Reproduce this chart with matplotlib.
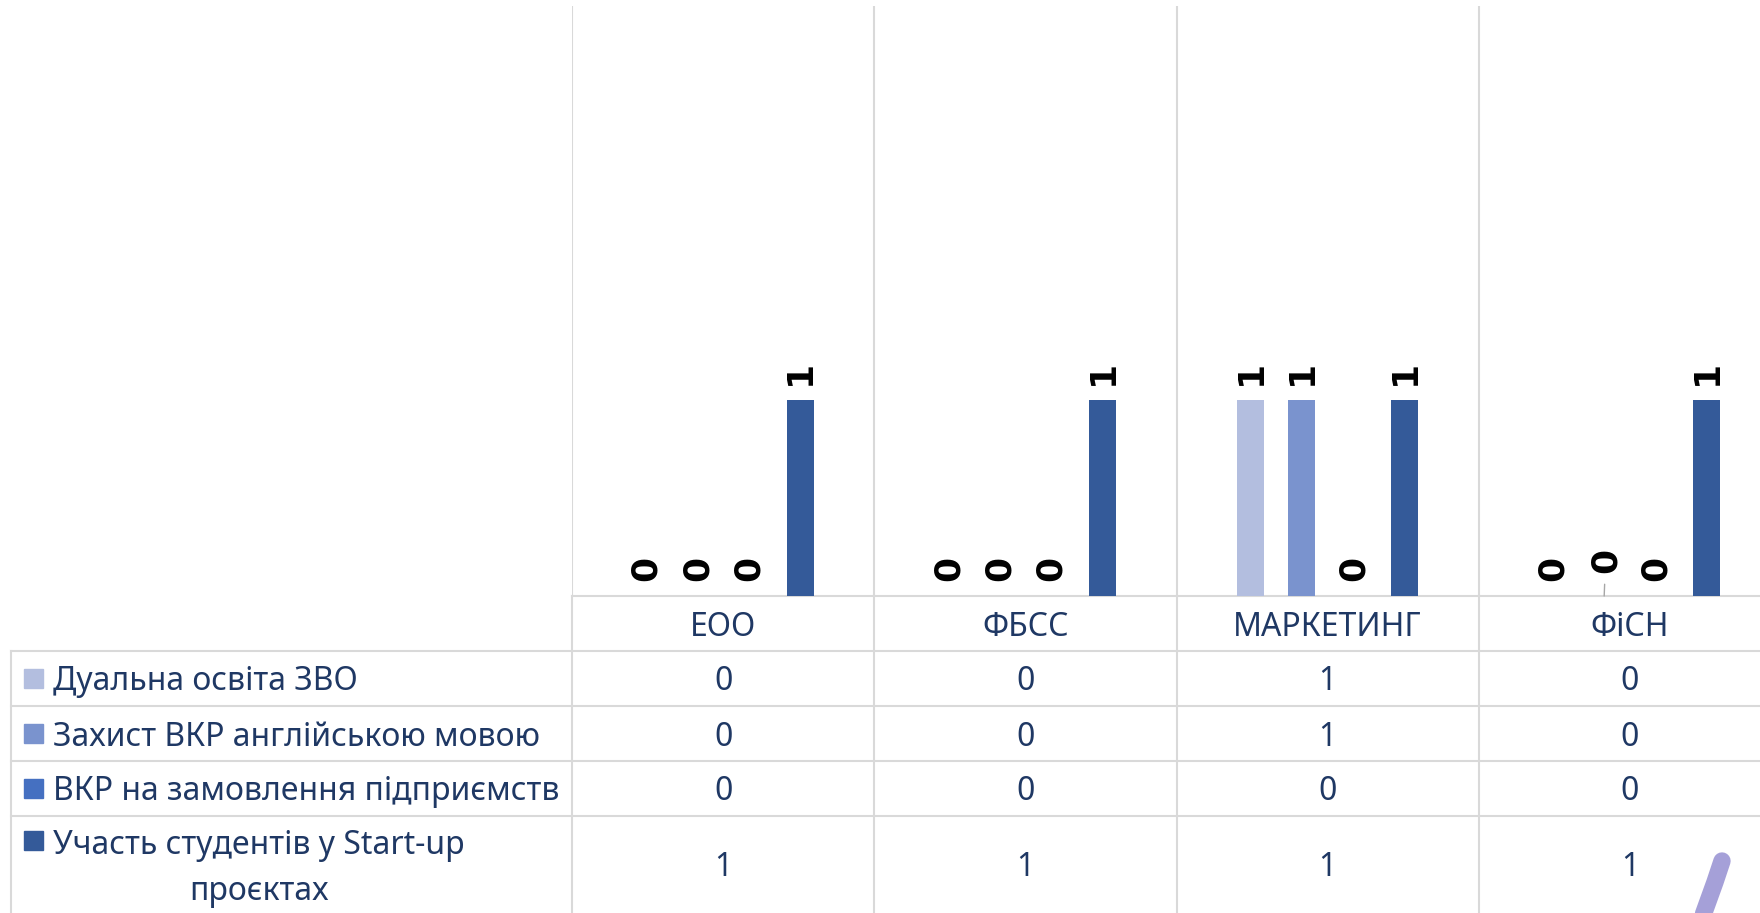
import numpy as np
import matplotlib
matplotlib.use('Agg')
import matplotlib.pyplot as plt
from matplotlib.patches import Rectangle
from matplotlib.transforms import blended_transform_factory

categories = ['ЕОО', 'ФБСС', 'МАРКЕТИНГ', 'ФіСН']
series_names = ['Дуальна освіта ЗВО',
                'Захист ВКР англійською мовою',
                'ВКР на замовлення підприємств',
                'Участь студентів у Start-up\nпроєктах']
dual = [0, 0, 1, 0]
english = [0, 0, 1, 0]
orders = [0, 0, 0, 0]
startup = [1, 1, 1, 1]
colors = ['#B3BEDF', '#7A93CE', '#4570C1', '#345A99']

navy = '#1F3864'
grid = '#D9D9D9'
W, H = 1760, 913

fig = plt.figure(figsize=(W / 100, H / 100), dpi=100)
# pixel overlay used for the data table below the plot
over = fig.add_axes([0, 0, 1, 1])
over.set_xlim(0, W)
over.set_ylim(H, 0)
over.axis('off')

pl, pr, pt, pb = 572, 1781, 6, 596
ax = fig.add_axes([pl / W, 1 - pb / H, (pr - pl) / W, (pb - pt) / H])
ax.set_xlim(-0.5, 3.5)
ax.set_ylim(0, 3.01)
ax.axis('off')

values = [dual, english, orders, startup]
x = np.arange(len(categories))
step, bw = 0.17, 0.089
lab = dict(rotation=90, ha='center', va='center', fontsize=26,
           fontweight='bold', family='DejaVu Sans', color='black')
for i, (vals, c) in enumerate(zip(values, colors)):
    xs = x + (i - 1.5) * step
    ax.bar(xs, vals, bw, color=c, zorder=3)
    for j, (xi, v) in enumerate(zip(xs, vals)):
        if i == 1 and j == 3:
            # moved label with leader line (as in the original)
            ax.annotate(str(v), (xi, v), xytext=(1, 25.5), textcoords='offset points',
                        arrowprops=dict(arrowstyle='-', color='#A6A6A6', lw=1,
                                        shrinkA=6, shrinkB=0), **lab)
        else:
            ax.annotate(str(v), (xi, v), xytext=(0, 19.5), textcoords='offset points', **lab)

# table grid
lw = 1.5
for xv in [-0.5, 0.5, 1.5, 2.5]:
    ax.axvline(xv, color=grid, lw=lw, zorder=1)
over.plot([pl, W], [pb, pb], color=grid, lw=lw)
rows = [651, 706, 761, 816]
for yv in rows:
    over.plot([11, W], [yv, yv], color=grid, lw=lw)
over.plot([11, 11], [651, H], color=grid, lw=lw)
trans = blended_transform_factory(ax.transData, over.transData)
for xv in [-0.5, 0.5, 1.5, 2.5]:
    over.plot([xv, xv], [pb, H], color=grid, lw=lw, transform=trans, clip_on=False)

fs = 23
for xi, cat in zip(x, categories):
    over.text(xi, 628, cat, transform=trans, ha='center', va='center',
              fontsize=fs, color=navy, family='Noto Sans')

row_y = [682, 737, 792, 868]
key_y = [679, 734, 789, 841]
for name, c, vals, ry, ky in zip(series_names, colors, values, row_y, key_y):
    over.add_patch(Rectangle((24, ky - 9.5), 19, 19, color=c))
    over.text(53, ry, name, ha='left', va='center', multialignment='center',
              fontsize=fs, color=navy, family='Noto Sans', linespacing=1.52)
    for xi, v in zip(x, vals):
        over.text(xi, ry, str(v), transform=trans, ha='center', va='center',
                  fontsize=fs, color=navy, family='Noto Sans')

# decorative stroke in lower right corner
over.plot([1722, 1715, 1702], [861, 882, 918], color='#A5A0D8', lw=12.5,
          solid_capstyle='round')

fig.savefig('out.png', dpi=100)
